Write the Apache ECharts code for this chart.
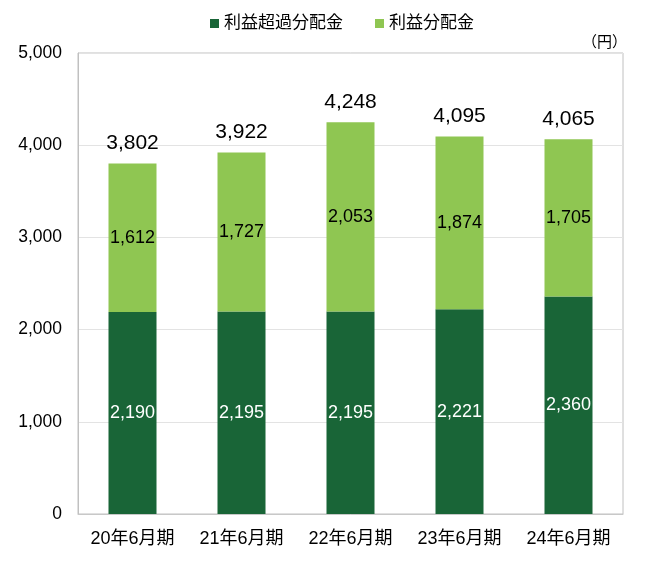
<!DOCTYPE html>
<html><head><meta charset="utf-8">
<script src="https://cdn.jsdelivr.net/npm/echarts@6/dist/echarts.min.js"></script>
<style>html,body{margin:0;padding:0;background:#fff}#c{width:651px;height:561px}</style>
</head><body><div id="c"></div>
<script>
const categories = ['20年6月期','21年6月期','22年6月期','23年6月期','24年6月期'];
const excessValues = [2190, 2195, 2195, 2221, 2360];
const profitValues = [1612, 1727, 2053, 1874, 1705];
const seriesNames = ['利益超過分配金','利益分配金'];
const totals = excessValues.map((v,i)=>v+profitValues[i]);
const FONT = '"Liberation Sans", Arial, "Noto Sans CJK JP", sans-serif';
const fmt = v => Number(v).toLocaleString('en-US');
const chart = echarts.init(document.getElementById('c'));
chart.setOption({
  animation:false,
  textStyle:{fontFamily:FONT},
  legend:{
    data:seriesNames, top:10, left:205, itemWidth:9, itemHeight:9, itemGap:32,
    icon:'rect', textStyle:{fontSize:17, color:'#000', fontFamily:FONT}
  },
  graphic:[{type:'text', right:24, top:35, style:{text:'（円）', fill:'#000', font:'15px '+FONT}}],
  grid:{left:78, right:28, top:53, bottom:47, show:true, borderColor:'#c0c0c0', borderWidth:1},
  xAxis:{type:'category', data:categories,
    axisLine:{lineStyle:{color:'#c8c8c8'}}, axisTick:{show:false},
    axisLabel:{interval:0, fontSize:18, color:'#000', margin:16, fontFamily:FONT}},
  yAxis:{type:'value', min:0, max:5000, interval:1000,
    axisLine:{show:true, lineStyle:{color:'#c0c0c0'}}, axisTick:{show:false},
    splitLine:{lineStyle:{color:'#e3e3e3'}},
    axisLabel:{fontSize:17.5, color:'#000', margin:16, formatter:fmt, fontFamily:FONT}},
  series:[
    {name:seriesNames[0], type:'bar', stack:'a', data:excessValues, barWidth:48,
     itemStyle:{color:'#196537'},
     label:{show:true, position:'inside', color:'#fff', fontSize:18, formatter:p=>fmt(p.value), fontFamily:FONT}},
    {name:seriesNames[1], type:'bar', stack:'a', data:profitValues,
     itemStyle:{color:'#8fc652'},
     label:{show:true, position:'inside', color:'#000', fontSize:18, formatter:p=>fmt(p.value), fontFamily:FONT}},
    {name:'total', type:'scatter', data:totals, symbolSize:1, itemStyle:{opacity:0}, silent:true,
     label:{show:true, position:'top', distance:9, color:'#000', opacity:1, fontSize:21, formatter:p=>fmt(p.value), fontFamily:FONT}}
  ]
});
</script></body></html>
